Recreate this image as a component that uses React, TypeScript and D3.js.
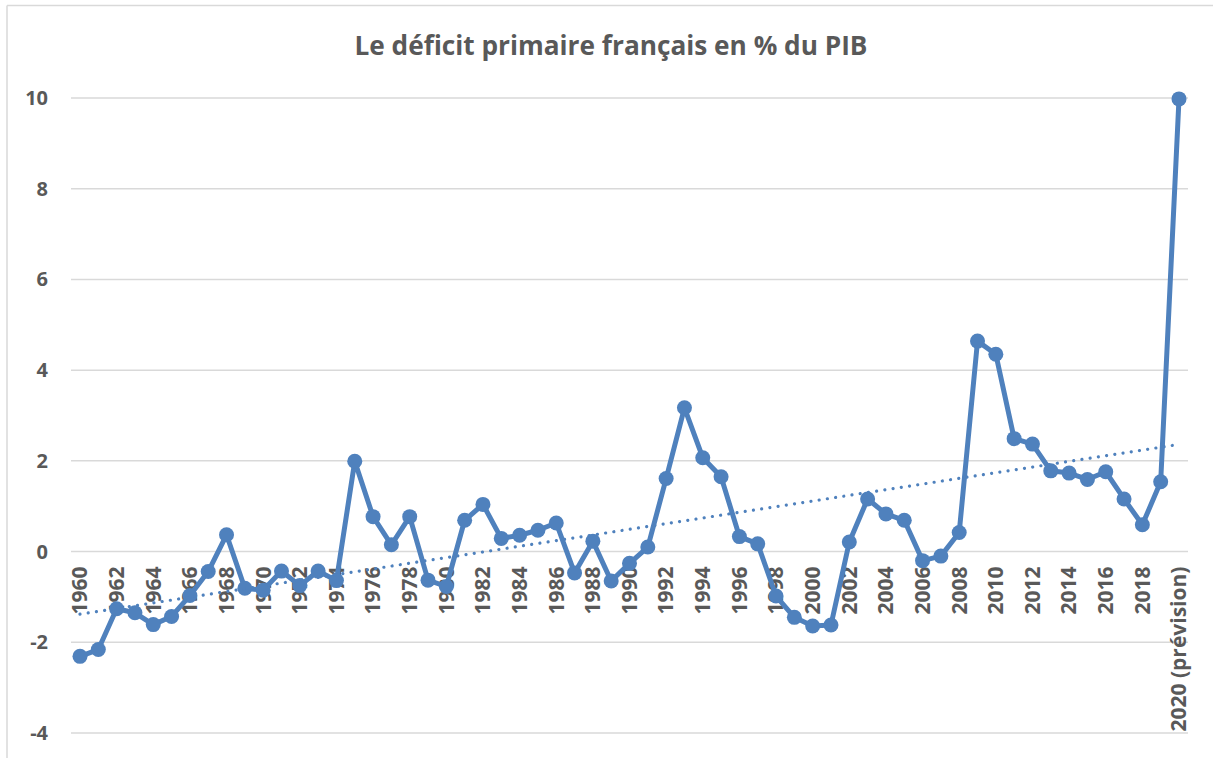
import React from "react";
import * as d3 from "d3";

const years: string[] = [
  "1960","1961","1962","1963","1964","1965","1966","1967","1968","1969",
  "1970","1971","1972","1973","1974","1975","1976","1977","1978","1979",
  "1980","1981","1982","1983","1984","1985","1986","1987","1988","1989",
  "1990","1991","1992","1993","1994","1995","1996","1997","1998","1999",
  "2000","2001","2002","2003","2004","2005","2006","2007","2008","2009",
  "2010","2011","2012","2013","2014","2015","2016","2017","2018","2019",
  "2020 (prévision)",
];

const deficit: number[] = [
  -2.31, -2.16, -1.26, -1.35, -1.61, -1.43, -0.97, -0.44, 0.37, -0.81,
  -0.85, -0.43, -0.75, -0.43, -0.64, 1.99, 0.77, 0.15, 0.77, -0.63,
  -0.77, 0.69, 1.04, 0.29, 0.36, 0.47, 0.63, -0.47, 0.23, -0.65,
  -0.26, 0.10, 1.61, 3.17, 2.07, 1.65, 0.33, 0.17, -0.98, -1.45,
  -1.64, -1.62, 0.21, 1.16, 0.83, 0.69, -0.20, -0.10, 0.42, 4.64,
  4.35, 2.49, 2.37, 1.78, 1.73, 1.59, 1.76, 1.16, 0.59, 1.54,
  9.98,
];

const yTicks: number[] = [-4, -2, 0, 2, 4, 6, 8, 10];

const title = "Le déficit primaire français en % du PIB";

const W = 1213;
const H = 758;
const BLUE = "#4f81bd";
const GREY = "#595959";
const GRID = "#d9d9d9";
const FONT = "'Open Sans', sans-serif";

export default function App() {
  const x = d3.scalePoint<string>().domain(years).range([80, 1179]);
  const y = d3.scaleLinear().domain([-4, 10]).range([733, 98]);

  const pts = deficit.map((v, i) => ({ c: years[i], v, i }));
  const line = d3
    .line<{ c: string; v: number; i: number }>()
    .x((d) => x(d.c) as number)
    .y((d) => y(d.v));

  // linear regression (Excel-style linear trendline)
  const n = deficit.length;
  const xs = deficit.map((_, i) => i + 1);
  const mx = d3.mean(xs) as number;
  const my = d3.mean(deficit) as number;
  let sxy = 0;
  let sxx = 0;
  xs.forEach((xi, i) => {
    sxy += (xi - mx) * (deficit[i] - my);
    sxx += (xi - mx) * (xi - mx);
  });
  const slope = sxy / sxx;
  const icpt = my - slope * mx;
  const trend = [
    { c: years[0], v: icpt + slope * 1, i: 0 },
    { c: years[n - 1], v: icpt + slope * n, i: n - 1 },
  ];

  const gx0 = 71;
  const gx1 = 1188;

  return (
    <svg
      width={W}
      height={H}
      style={{ position: "fixed", left: 0, top: 0, background: "#fff" }}
      fontFamily={FONT}
    >
      <rect x={0} y={0} width={W} height={H} fill="#fff" />
      {/* chart border (cropped) */}
      <line x1={7} y1={5.5} x2={W} y2={5.5} stroke={GRID} strokeWidth={1.5} />
      <line x1={7} y1={5.5} x2={7} y2={H} stroke={GRID} strokeWidth={1.5} />

      <text
        x={611}
        y={55}
        textAnchor="middle"
        fontSize={26}
        fontWeight="bold"
        fill={GREY}
        textLength={513}
        lengthAdjust="spacingAndGlyphs"
      >
        {title}
      </text>

      {yTicks.map((t) => (
        <g key={t}>
          <line
            x1={gx0}
            x2={gx1}
            y1={y(t)}
            y2={y(t)}
            stroke={GRID}
            strokeWidth={1.5}
          />
          <text
            x={48}
            y={y(t)}
            dy="0.35em"
            textAnchor="end"
            fontSize={20}
            fontWeight="bold"
            fill={GREY}
          >
            {t}
          </text>
        </g>
      ))}

      {years.map((c, i) =>
        i % 2 === 0 ? (
          <text
            key={c}
            transform={`translate(${x(c)},${y(0) + 15}) rotate(-90)`}
            textAnchor="end"
            dy="0.35em"
            fontSize={21}
            fontWeight="bold"
            fill={GREY}
          >
            {c}
          </text>
        ) : null
      )}

      <path
        d={line(pts) as string}
        fill="none"
        stroke={BLUE}
        strokeWidth={5}
        strokeLinejoin="round"
      />
      {pts.map((p) => (
        <circle key={p.c} cx={x(p.c)} cy={y(p.v)} r={7.5} fill={BLUE} />
      ))}

      <path
        d={line(trend) as string}
        fill="none"
        stroke={BLUE}
        strokeWidth={3.2}
        strokeDasharray="0.01 8.3"
        strokeLinecap="round"
      />
    </svg>
  );
}
